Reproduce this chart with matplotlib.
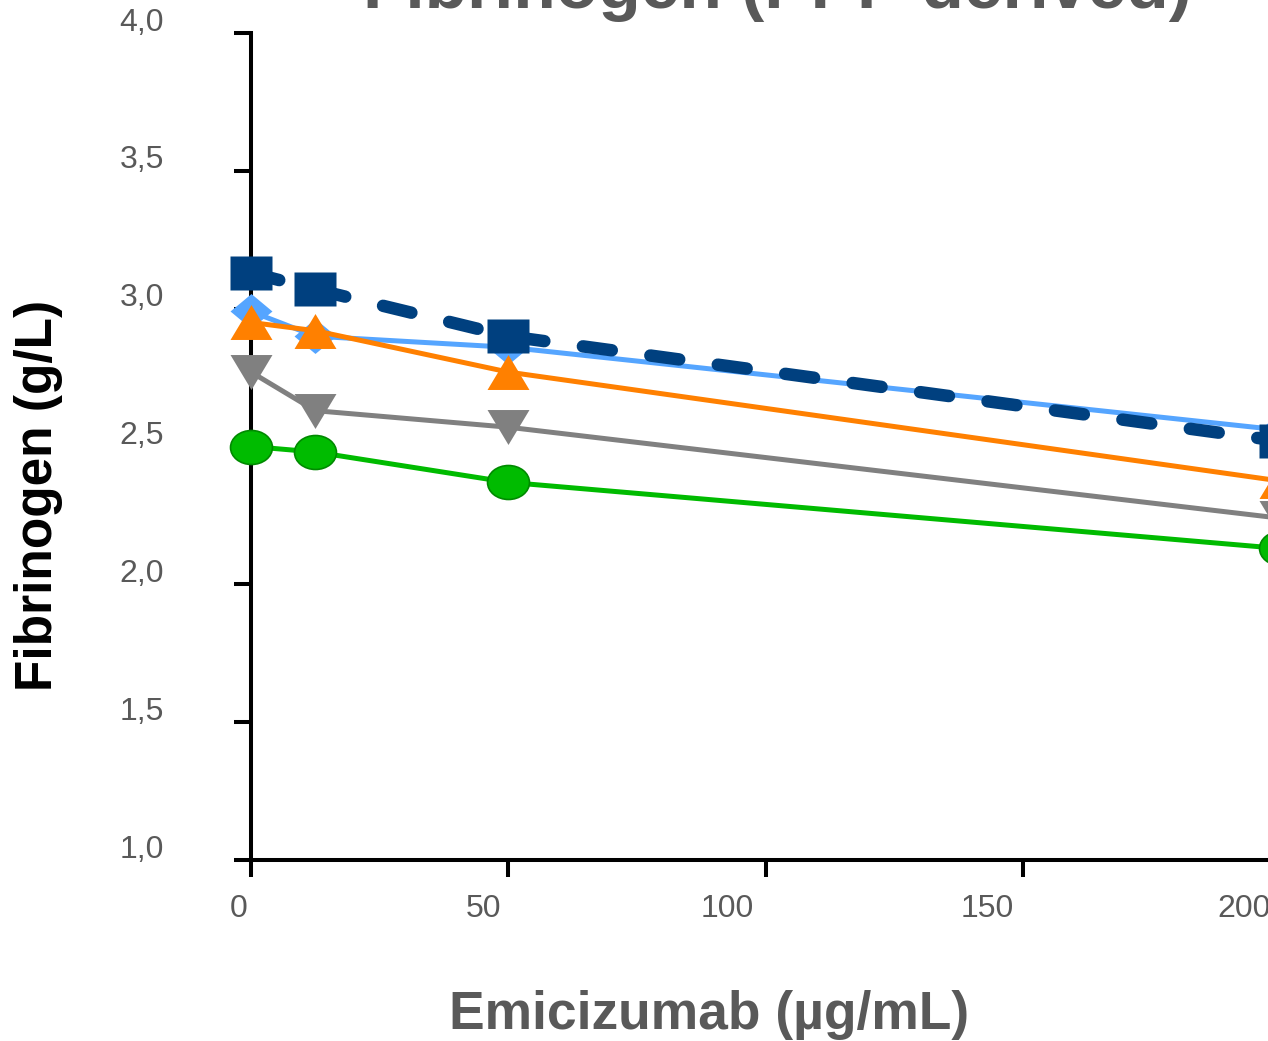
import numpy as np
import matplotlib
matplotlib.use("Agg")
import matplotlib.pyplot as plt
from matplotlib.path import Path
from matplotlib.transforms import Affine2D, ScaledTranslation

plt.rcParams['font.family'] = ['Liberation Sans', 'DejaVu Sans']
plt.rcParams['lines.scale_dashes'] = False

# ====================== DATA ======================
emicizumab = [0, 12.5, 50, 200]
fib_darkblue = [3.13, 3.07, 2.90, 2.52]
fib_lightblue = [2.99, 2.90, 2.86, 2.56]
fib_orange = [2.95, 2.92, 2.77, 2.375]
fib_gray = [2.77, 2.63, 2.57, 2.24]
fib_green = [2.50, 2.48, 2.37, 2.13]

x_ticks = [0, 50, 100, 150, 200]
x_ticklabels = ['0', '50', '100', '150', '200']
y_ticks = [1.0, 1.5, 2.0, 2.5, 3.0, 3.5, 4.0]
y_ticklabels = ['1,0', '1,5', '2,0', '2,5', '3,0', '3,5', '4,0']

title = 'Fibrinogen (PPP derived)'
xlabel = 'Emicizumab (µg/mL)'
ylabel = 'Fibrinogen (g/L)'

# ====================== MARKERS (stretched like the original) ======================
sy = 0.833
m_square = [(-1, -sy), (1, -sy), (1, sy), (-1, sy)]
m_diamond = [(0, sy), (1, 0), (0, -sy), (-1, 0)]
m_tri_up = [(0, sy), (-1, -sy), (1, -sy)]
m_tri_down = [(0, -sy), (1, sy), (-1, sy)]
m_ellipse = Affine2D().scale(1, 0.81).transform_path(Path.unit_circle())

W, H, DPI = 12.68, 10.41, 100
fig = plt.figure(figsize=(W, H), dpi=DPI)
px_w, px_h = W * DPI, H * DPI

# axes placed in pixel coords of the reference (x=0 at 251px, x=200 at 1280px)
ax = fig.add_axes([251 / px_w, (px_h - 860) / px_h, 1029 / px_w, 827 / px_h])

ms = 30.2
lw = 3.6
ax.plot(emicizumab, fib_lightblue, color='#55A5FF', lw=lw, marker=m_diamond, ms=ms,
        mec='none', zorder=2, clip_on=False)
ax.plot(emicizumab, fib_orange, color='#FF8000', lw=lw, marker=m_tri_up, ms=ms,
        mec='none', zorder=3, clip_on=False)
ax.plot(emicizumab, fib_gray, color='#808080', lw=lw, marker=m_tri_down, ms=ms,
        mec='none', zorder=3, clip_on=False)
ax.plot(emicizumab, fib_green, color='#00BB00', lw=lw, marker=m_ellipse, ms=ms,
        mec='#008A00', mew=1.2, zorder=3, clip_on=False)
ax.plot(emicizumab, fib_darkblue, color='#00407F', lw=9, dashes=(21, 28),
        dash_capstyle='round', marker=m_square, ms=ms, mec='none', zorder=4,
        clip_on=False)

ax.set_xlim(0, 200)
ax.set_ylim(1.0, 4.0)
ax.set_xticks(x_ticks)
ax.set_xticklabels(x_ticklabels)
ax.set_yticks(y_ticks)
ax.set_yticklabels(y_ticklabels)

for s in ['top', 'right']:
    ax.spines[s].set_visible(False)
for s in ['left', 'bottom']:
    ax.spines[s].set_linewidth(2.9)
    ax.spines[s].set_color('black')
    ax.spines[s].set_zorder(1)

ax.tick_params(axis='both', direction='out', length=12.5, width=2.9, color='black',
               labelsize=23, labelcolor='#595959')
ax.tick_params(axis='y', pad=50)
ax.tick_params(axis='x', pad=12)

# label offsets as in the original (pixels)
x_shift = [-12, -25, -38, -36, -36]
for tick, dx in zip(ax.xaxis.get_major_ticks(), x_shift):
    tick.label1.set_transform(tick.label1.get_transform() +
                              ScaledTranslation(dx / DPI, 0, fig.dpi_scale_trans))
for tick in ax.yaxis.get_major_ticks():
    tick.label1.set_transform(tick.label1.get_transform() +
                              ScaledTranslation(0, 14 / DPI, fig.dpi_scale_trans))

fig.text(777 / px_w, (px_h - 8) / px_h, title, ha='center', va='baseline',
         fontsize=50, fontweight='bold', color='#595959')
fig.text(709 / px_w, (px_h - 1029) / px_h, xlabel, ha='center', va='baseline',
         fontsize=38.4, fontweight='bold', color='#595959')
fig.text(39 / px_w, (px_h - 495) / px_h, ylabel, ha='center', va='center',
         rotation=90, fontsize=37, fontweight='bold', color='black')

fig.savefig('out.png', dpi=DPI)
